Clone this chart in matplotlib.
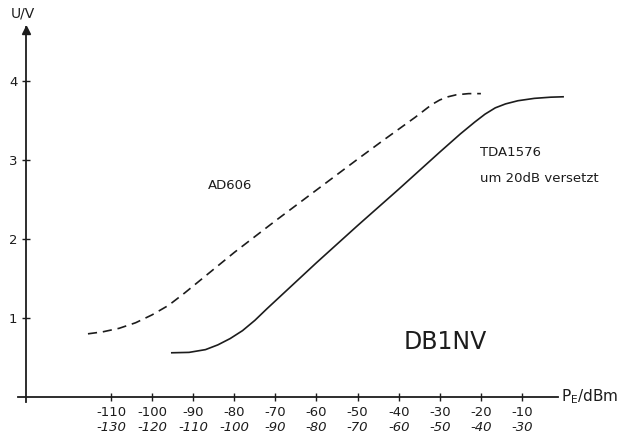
import numpy as np
import matplotlib
matplotlib.use('Agg')
import matplotlib.pyplot as plt

# input power (upper scale, dBm) and output voltage (V)
ad606_p = [-115.6, -112, -108, -104, -100, -96, -92, -88, -84, -80, -75, -70, -60, -50,
           -44, -40, -36, -34, -32, -30, -28, -26, -23, -20]
ad606_u = [0.80, 0.825, 0.87, 0.94, 1.04, 1.16, 1.32, 1.49, 1.66, 1.83, 2.03, 2.23, 2.62, 3.01,
           3.24, 3.39, 3.54, 3.62, 3.70, 3.76, 3.80, 3.825, 3.84, 3.84]

tda_p = [-95.2, -91, -87, -84, -81, -78, -75, -72, -60, -50, -40, -30, -25,
         -21.5, -19, -16.5, -14, -11, -7, -3, 0]
tda_u = [0.56, 0.565, 0.60, 0.66, 0.74, 0.84, 0.97, 1.12, 1.70, 2.17, 2.63, 3.10, 3.33,
         3.48, 3.58, 3.66, 3.71, 3.75, 3.78, 3.795, 3.80]

xticks = [-110, -100, -90, -80, -70, -60, -50, -40, -30, -20, -10]
xlabels_top = ['-110', '-100', '-90', '-80', '-70', '-60', '-50', '-40', '-30', '-20', '-10']
xlabels_bot = ['-130', '-120', '-110', '-100', '-90', '-80', '-70', '-60', '-50', '-40', '-30']
yticks = [1, 2, 3, 4]

ink = '#1c1c1c'
x_axis = -130.7   # where the U axis crosses

fig = plt.figure(figsize=(6.34, 4.34), dpi=100)
ax = fig.add_axes([0, 0, 1, 1])
ax.set_xlim(-137.0, 17.25)
ax.set_ylim(-0.468, 5.025)

ax.plot(ad606_p, ad606_u, color=ink, lw=1.2, linestyle=(0, (5.5, 3.5)))
ax.plot(tda_p, tda_u, color=ink, lw=1.2)

# axes through the origin
for s in ['top', 'right']:
    ax.spines[s].set_visible(False)
ax.spines['left'].set_position(('data', x_axis))
ax.spines['bottom'].set_position(('data', 0))
ax.spines['left'].set_bounds(-0.06, 4.68)
ax.spines['bottom'].set_bounds(-132.6, -1.2)
for s in ['left', 'bottom']:
    ax.spines[s].set_color(ink)
    ax.spines[s].set_linewidth(1.3)
ax.plot([x_axis], [4.64], marker='^', color=ink, markersize=6, clip_on=False)

ax.set_xticks(xticks)
ax.set_xticklabels(xlabels_top, fontsize=9.5, color=ink)
ax.set_yticks(yticks)
ax.set_yticklabels([str(v) for v in yticks], fontsize=9.5, color=ink)
ax.tick_params(axis='both', direction='inout', length=6, width=1, color=ink)
ax.tick_params(axis='x', pad=3.5)
ax.tick_params(axis='y', pad=3)

for x, lab in zip(xticks, xlabels_bot):
    ax.text(x, -0.38, lab, fontsize=9.5, style='italic', color=ink, ha='center', va='center')

ax.text(-131.4, 4.85, 'U/V', fontsize=10, color=ink, ha='center', va='center')
ax.text(-0.6, 0.0, r'P$_\mathrm{E}$/dBm', fontsize=11, color=ink, ha='left', va='center')
ax.text(-81.0, 2.68, 'AD606', fontsize=9.5, color=ink, ha='center', va='center')
ax.text(-20.2, 3.09, 'TDA1576', fontsize=9.5, color=ink, ha='left', va='center')
ax.text(-20.2, 2.77, 'um 20dB versetzt', fontsize=9.5, color=ink, ha='left', va='center')
ax.text(-28.7, 0.70, 'DB1NV', fontsize=17, color=ink, ha='center', va='center')

fig.savefig('out.png', dpi=100, facecolor='white')
